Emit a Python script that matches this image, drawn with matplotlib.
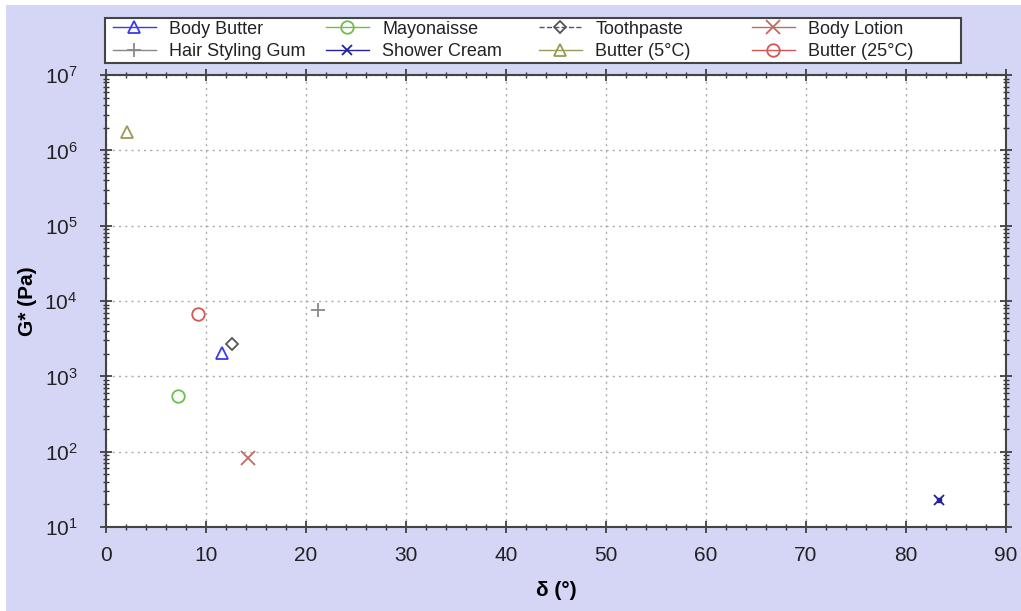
import numpy as np
import matplotlib
matplotlib.use("Agg")
import matplotlib.pyplot as plt
from matplotlib.patches import Rectangle
from matplotlib.ticker import MultipleLocator, LogLocator, NullFormatter

plt.rcParams['font.family'] = ['Liberation Sans', 'DejaVu Sans']

# --- data ---
names = ['Body Butter', 'Hair Styling Gum', 'Mayonaisse', 'Shower Cream',
         'Toothpaste', 'Butter (5\u00b0C)', 'Body Lotion', 'Butter (25\u00b0C)']
delta = [11.6, 21.2, 7.2, 83.3, 12.6, 2.1, 14.2, 9.2]
gstar = [2050, 7600, 550, 23, 2700, 1.75e6, 82, 6700]

colors = ['#3a3aee', '#888888', '#6cbf4c', '#22229a',
          '#555555', '#9a9a55', '#c06a60', '#d65555']
markers = ['^', '+', 'o', 'x', 'D', '^', 'x', 'o']
lstyles = ['-', '-', '-', '-', '--', '-', '-', '-']
msizes = [8, 10, 9, 7, 6, 8, 10, 9]

fig = plt.figure(figsize=(10.21, 6.11), dpi=100)
fig.patch.set_facecolor('white')
# lavender background (thin white strip on left and top as in the source)
fig.patches.append(Rectangle((6 / 1021, 0), 1, 1 - 5 / 611, transform=fig.transFigure,
                             facecolor='#d5d5f5', edgecolor='none', zorder=-10))
ax = fig.add_axes([0.1038, 0.1375, 0.8815, 0.7395])

handles = []
for n, x, y, c, m, ls, ms in zip(names, delta, gstar, colors, markers, lstyles, msizes):
    if n == 'Shower Cream':
        ax.plot([x], [y], marker='s', color=c, ms=3, linestyle='none')
    h, = ax.plot([x], [y], marker=m, color=c, linestyle=ls, linewidth=1,
                 ms=ms, mfc='none', mec=c, mew=1.3, label=n)
    handles.append(h)

ax.set_yscale('log')
ax.set_xlim(0, 90)
ax.set_ylim(10, 1e7)
ax.xaxis.set_major_locator(MultipleLocator(10))
ax.xaxis.set_minor_locator(MultipleLocator(2))
ax.yaxis.set_major_locator(LogLocator(base=10, numticks=10))
ax.yaxis.set_minor_locator(LogLocator(base=10, subs=np.arange(2, 10), numticks=20))
ax.yaxis.set_minor_formatter(NullFormatter())
ax.tick_params(which='both', direction='inout', top=True, right=True,
               labelsize=15, color='#333333', labelcolor='#222222')
ax.tick_params(which='major', length=9, width=1.2)
ax.tick_params(which='minor', length=5, width=1)
ax.tick_params(axis='x', pad=9)
ax.tick_params(axis='y', pad=16)
for s in ax.spines.values():
    s.set_linewidth(1.5)
    s.set_color('#444444')
ax.grid(True, which='major', linestyle=(0, (1.5, 3)), color='#aaaaaa', linewidth=1)

ax.set_xlabel('\u03b4 (\u00b0)', fontsize=15, fontweight='bold', labelpad=12)
ax.set_ylabel('G* (Pa)', fontsize=15, fontweight='bold', labelpad=5)

# legend: outer frame plus four equal-width columns
frame_x0, frame_x1 = 105 / 1021, 961 / 1021
frame_y0, frame_y1 = 1 - 63 / 611, 1 - 18 / 611
fig.patches.append(Rectangle((frame_x0, frame_y0), frame_x1 - frame_x0, frame_y1 - frame_y0,
                             transform=fig.transFigure, facecolor='white',
                             edgecolor='#444444', linewidth=1.5, zorder=1))
col_w = 213 / 1021
for i in range(4):
    leg = fig.legend(handles=handles[2 * i:2 * i + 2], loc='center left',
                     bbox_to_anchor=(frame_x0 + 4 / 1021 + i * col_w, (frame_y0 + frame_y1) / 2),
                     ncol=1, fontsize=13, frameon=False, borderaxespad=0,
                     handlelength=2.4, labelspacing=0.3, borderpad=0.2,
                     handletextpad=0.75)
    for t in leg.get_texts():
        t.set_color('#222222')

plt.savefig('out.png', dpi=100, facecolor=fig.get_facecolor())
